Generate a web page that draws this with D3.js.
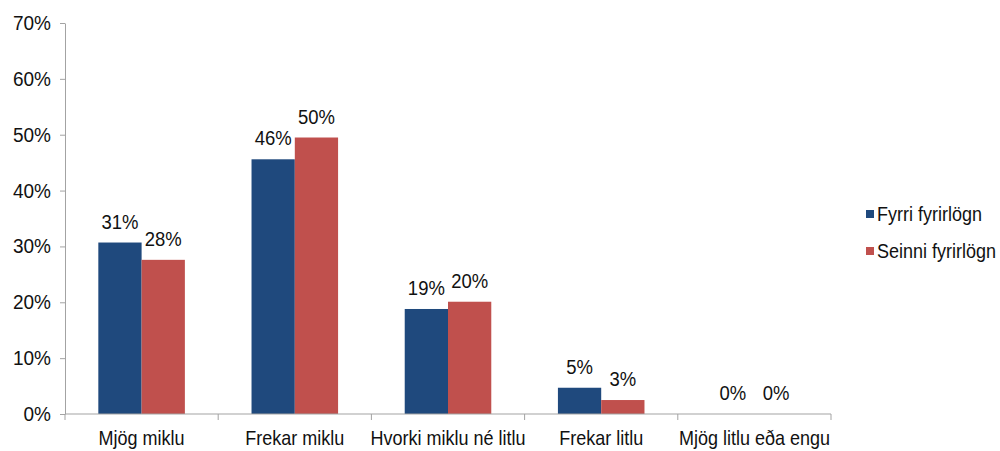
<!DOCTYPE html>
<html>
<head>
<meta charset="utf-8">
<script src="https://cdn.jsdelivr.net/npm/d3@7"></script>
<style>
  html, body { margin: 0; padding: 0; background: #fff; }
  svg { display: block; font-family: "Liberation Sans", Arial, sans-serif; }
</style>
</head>
<body>
<svg id="chart" width="1000" height="451"></svg>
<script>
// Response categories along the x axis
const categories = ["Mjög miklu", "Frekar miklu", "Hvorki miklu né litlu", "Frekar litlu", "Mjög litlu eða engu"];
// Series names (legend order)
const seriesNames = ["Fyrri fyrirlögn", "Seinni fyrirlögn"];
// Share of answers per category, for each series
const fyrriValues = [0.307, 0.456, 0.188, 0.047, 0.0];
const seinniValues = [0.276, 0.495, 0.201, 0.025, 0.0];
// Y axis tick values
const yTicks = [0, 0.1, 0.2, 0.3, 0.4, 0.5, 0.6, 0.7];

const seriesColors = ["#1F497D", "#C0504D"];
const axisColor = "#a3a3a3";
const textColor = "#111";
const stretch = 1.08; // slightly tall glyphs

const svg = d3.select("#chart");
const plot = { left: 65, right: 831, top: 23, bottom: 414 };

const x = d3.scaleBand()
  .domain(categories)
  .range([plot.left, plot.right])
  .paddingInner(0)
  .paddingOuter(0);

const x1 = d3.scaleBand()
  .domain(seriesNames)
  .range([0, x.bandwidth()])
  .paddingInner(0)
  .paddingOuter(0.77);

const y = d3.scaleLinear()
  .domain([0, 0.7])
  .range([plot.bottom, plot.top]);

const color = d3.scaleOrdinal().domain(seriesNames).range(seriesColors);
const pct = d3.format(".0%");

const rows = categories.map((c, i) => ({
  category: c,
  values: [
    { series: seriesNames[0], value: fyrriValues[i] },
    { series: seriesNames[1], value: seinniValues[i] }
  ]
}));

const place = (px, py) => `translate(${px},${py}) scale(1,${stretch})`;

// Y axis
const yAxis = d3.axisLeft(y)
  .tickValues(yTicks)
  .tickFormat(pct)
  .tickSize(5)
  .tickSizeOuter(0)
  .tickPadding(9);

const yG = svg.append("g")
  .attr("transform", `translate(${plot.left},0)`)
  .call(yAxis);
yG.select(".domain").attr("stroke", axisColor);
yG.selectAll(".tick line").attr("stroke", axisColor);
yG.selectAll(".tick text")
  .attr("fill", textColor)
  .attr("transform", `scale(1,${stretch})`)
  .style("font-size", "19px")
  .style("font-family", "'Liberation Sans', Arial, sans-serif");

// Bars
const groups = svg.append("g")
  .selectAll("g")
  .data(rows)
  .join("g")
  .attr("transform", d => `translate(${x(d.category)},0)`);

groups.selectAll("rect")
  .data(d => d.values)
  .join("rect")
  .attr("x", d => x1(d.series))
  .attr("width", x1.bandwidth())
  .attr("y", d => y(d.value))
  .attr("height", d => y(0) - y(d.value))
  .attr("fill", d => color(d.series));

// Value labels above bars
groups.selectAll("text")
  .data(d => d.values)
  .join("text")
  .attr("transform", d => place(x1(d.series) + x1.bandwidth() / 2, y(d.value) - 14))
  .attr("text-anchor", "middle")
  .attr("fill", textColor)
  .style("font-size", "18.5px")
  .text(d => pct(d.value));

// X axis line, boundary ticks and category labels
const xG = svg.append("g");
xG.append("line")
  .attr("x1", plot.left).attr("x2", plot.right)
  .attr("y1", y(0)).attr("y2", y(0))
  .attr("stroke", axisColor);

const boundaries = categories.map(c => x(c)).concat([x(categories[categories.length - 1]) + x.bandwidth()]);
xG.selectAll("line.tick")
  .data(boundaries)
  .join("line")
  .attr("class", "tick")
  .attr("x1", d => d).attr("x2", d => d)
  .attr("y1", y(0)).attr("y2", y(0) + 6)
  .attr("stroke", axisColor);

xG.selectAll("text")
  .data(categories)
  .join("text")
  .attr("transform", d => place(x(d) + x.bandwidth() / 2, 445))
  .attr("text-anchor", "middle")
  .attr("fill", textColor)
  .style("font-size", "18px")
  .text(d => d);

// Legend
const legend = svg.append("g")
  .selectAll("g")
  .data(seriesNames)
  .join("g")
  .attr("transform", (d, i) => `translate(866,${214 + i * 37})`);

legend.append("rect")
  .attr("x", 0).attr("y", -4)
  .attr("width", 8).attr("height", 8)
  .attr("fill", d => color(d));

legend.append("text")
  .attr("transform", place(11, 6.5))
  .attr("fill", textColor)
  .style("font-size", "18px")
  .text(d => d);
</script>
</body>
</html>
